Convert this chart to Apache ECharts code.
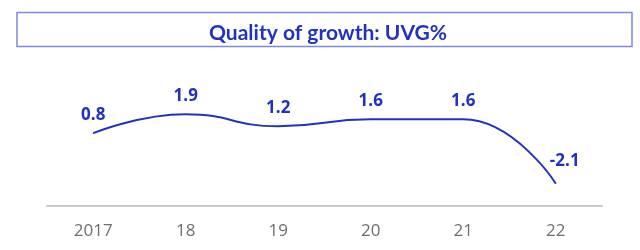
<!DOCTYPE html>
<html>
<head>
<meta charset="utf-8">
<script src="https://cdn.jsdelivr.net/npm/echarts@6/dist/echarts.min.js"></script>
<style>
  html, body { margin: 0; padding: 0; background: #fff; }
  #main { width: 640px; height: 250px; }
</style>
</head>
<body>
<div id="main"></div>
<script>
var years = ['2017', '18', '19', '20', '21', '22'];
var uvg = [0.8, 1.9, 1.2, 1.6, 1.6, -2.1];

var blue = '#2232c0';

var myChart = echarts.init(document.getElementById('main'));

// last label sits a bit to the right of its point
var seriesData = uvg.map(function (v, i) {
    if (i === uvg.length - 1) {
        return { value: v, label: { offset: [9, -4] } };
    }
    return v;
});

var option = {
    animation: false,
    title: {
        text: 'Quality of growth: UVG%',
        left: 323,
        top: 18,
        textAlign: 'center',
        textStyle: {
            color: blue,
            fontFamily: 'Lato',
            fontWeight: 'bold',
            fontSize: 21
        }
    },
    graphic: [{
        type: 'rect',
        shape: { x: 17, y: 12.5, width: 615, height: 34 },
        style: { fill: 'none', stroke: '#7d88e2', lineWidth: 1.5 }
    }],
    grid: { left: 47, right: 38, top: 102, bottom: 44 },
    xAxis: {
        type: 'category',
        data: years,
        boundaryGap: true,
        axisLine: { onZero: false, lineStyle: { color: '#c8c8c8', width: 2 } },
        axisTick: { show: false },
        axisLabel: {
            color: '#6e6e6e',
            fontFamily: 'Open Sans',
            fontSize: 17,
            margin: 17
        }
    },
    yAxis: {
        type: 'value',
        min: -3.4,
        max: 2.6,
        show: false,
        splitLine: { show: false }
    },
    series: [{
        type: 'line',
        data: seriesData,
        smooth: 0.5,
        symbol: 'circle',
        symbolSize: 1,
        showSymbol: true,
        itemStyle: { color: blue },
        lineStyle: { color: blue, width: 2 },
        label: {
            show: true,
            position: 'top',
            distance: 9,
            color: blue,
            fontFamily: 'Open Sans',
            fontWeight: 'bold',
            fontSize: 17
        }
    }]
};

myChart.setOption(option);
</script>
</body>
</html>
